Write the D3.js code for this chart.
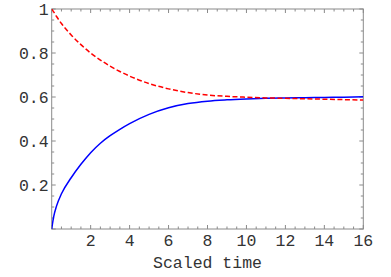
<!DOCTYPE html>
<html>
<head>
<meta charset="utf-8">
<script src="https://cdn.jsdelivr.net/npm/d3@7"></script>
<style>
  body { margin: 0; background: #fff; }
  text { font-family: "Liberation Mono", monospace; fill: #333; }
</style>
</head>
<body>
<svg></svg>
<script>
let width = 391, height = 277,
    margin = {left: 51.7, right: 27.7, top: 9, bottom: 48};

let times = [0, 0.1, 0.25, 0.5, 1, 1.5, 2, 2.5, 3, 3.5, 4, 5, 6, 7, 8, 9, 10, 11, 12, 13, 14, 15, 16],
    blueVals = [0, 0.055, 0.105, 0.16, 0.233, 0.294, 0.347, 0.39, 0.424, 0.453, 0.479, 0.521, 0.551, 0.570, 0.581, 0.587, 0.591, 0.594, 0.596, 0.597, 0.598, 0.599, 0.601],
    redVals  = [1, 0.987, 0.966, 0.934, 0.882, 0.838, 0.8, 0.768, 0.74, 0.716, 0.695, 0.661, 0.637, 0.62, 0.609, 0.603, 0.599, 0.596, 0.594, 0.592, 0.59, 0.588, 0.586],
    xTicks = [2, 4, 6, 8, 10, 12, 14, 16],
    yTicks = [0.2, 0.4, 0.6, 0.8, 1],
    xLabel = "Scaled time";

let xScale = d3.scaleLinear().domain([0, 16]).range([margin.left, width - margin.right]),
    yScale = d3.scaleLinear().domain([0, 1]).range([height - margin.bottom, margin.top]);

let svg = d3.select("svg").attr("width", width).attr("height", height);

let x0 = xScale.range()[0], x1 = xScale.range()[1],
    y0 = yScale.range()[0], y1 = yScale.range()[1];

svg.append("clipPath").attr("id", "clip")
  .append("rect").attr("x", x0).attr("y", y1).attr("width", x1 - x0).attr("height", y0 - y1);

// frame ticks, pointing inward on all four sides
let xMinor = d3.range(0, 16.01, 0.5), yMinor = d3.range(0, 1.001, 0.05);
let frame = svg.append("g").attr("stroke", "#8a8a8a").attr("stroke-width", 1);

xMinor.forEach(t => {
  let len = Math.abs(t % 2) < 1e-6 ? 4 : 2.5, x = xScale(t);
  frame.append("line").attr("x1", x).attr("x2", x).attr("y1", y0).attr("y2", y0 - len);
  frame.append("line").attr("x1", x).attr("x2", x).attr("y1", y1).attr("y2", y1 + len);
});
yMinor.forEach(v => {
  let major = Math.abs(Math.round(v * 5) - v * 5) < 1e-6, len = major ? 4 : 2.5, y = yScale(v);
  frame.append("line").attr("x1", x0).attr("x2", x0 + len).attr("y1", y).attr("y2", y);
  frame.append("line").attr("x1", x1).attr("x2", x1 - len).attr("y1", y).attr("y2", y);
});

frame.append("rect")
  .attr("x", x0).attr("y", y1).attr("width", x1 - x0).attr("height", y0 - y1)
  .attr("fill", "none");

// tick labels
svg.selectAll(".xl").data(xTicks).enter().append("text")
  .attr("x", d => xScale(d)).attr("y", y0 + 17)
  .attr("text-anchor", "middle").style("font-size", "16.5px")
  .text(d => d);

svg.selectAll(".yl").data(yTicks).enter().append("text")
  .attr("x", x0 - 3).attr("y", d => yScale(d)).attr("dy", "0.35em")
  .attr("text-anchor", "end").style("font-size", "16.5px")
  .text(d => d);

svg.append("text")
  .attr("x", (x0 + x1) / 2).attr("y", 268)
  .attr("text-anchor", "middle").style("font-size", "16.5px")
  .text(xLabel);

// curves
let line = vals => d3.line()
  .x((d, i) => xScale(times[i]))
  .y(d => yScale(d))
  .curve(d3.curveMonotoneX)(vals);

let plot = svg.append("g").attr("clip-path", "url(#clip)");

plot.append("path").attr("d", line(blueVals))
  .attr("fill", "none").attr("stroke", "#0000ff").attr("stroke-width", 1.5);

plot.append("path").attr("d", line(redVals))
  .attr("fill", "none").attr("stroke", "#ff0000").attr("stroke-width", 1.5)
  .attr("stroke-dasharray", "5,2.5");
</script>
</body>
</html>
